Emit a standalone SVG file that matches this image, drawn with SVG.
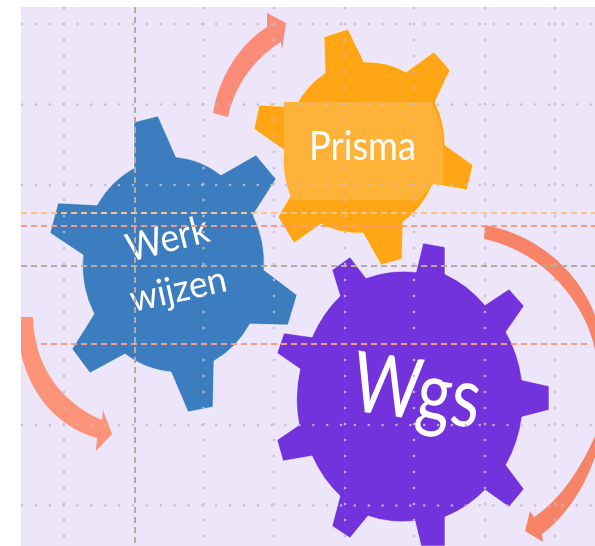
<svg xmlns="http://www.w3.org/2000/svg" width="595" height="546" viewBox="0 0 595 546">
<style>
.gear{stroke:#fff;stroke-width:1;stroke-opacity:.55;stroke-linejoin:round}
.label{fill:#fff;font-family:Lato,"Open Sans","Liberation Sans",sans-serif}
.col{stroke:#c4bcc4;stroke-width:2.6;stroke-linecap:round;stroke-dasharray:0 16;stroke-opacity:.9;fill:none}
.row{stroke:#c4bcc4;stroke-width:2.6;stroke-linecap:round;stroke-dasharray:0 13.87;stroke-opacity:.9;fill:none}
.guide{stroke-width:2;stroke-dasharray:6 4;fill:none}
</style>
<defs><filter id="soft" x="-5%" y="-5%" width="110%" height="110%"><feGaussianBlur stdDeviation="0.5"/></filter></defs>
<rect width="595" height="546" fill="#fff"/>
<rect x="21" y="7" width="574" height="539" fill="#ede5fa"/>
<g filter="url(#soft)">
<g id="connectors">
<path d="M213 113C219 78 238 46 267 27L267 13L286 23L282 50L281 42C255 58 235 84 228 117Z" fill="#fb8c78"/>
<path d="M21 317H33C34 365 60 402 102 420L103 410L112 434L96 451L97 438C58 427 30 395 21 353Z" fill="#fd9377"/>
<path d="M485 225C540 235 585 275 600 330V440C590 480 568 515 542 534L543 542L525 531L530 511L534 517C560 500 580 470 595 436V350C585 300 540 250 484 239Z" fill="#f88467"/>
</g>
<g id="gear-werkwijzen">
<path class="gear" fill="#3b7dbf" d="M134 122L158 116L176 157A90 100 0 0 1 221 175L256 155L276 179L253 215A92 100 0 0 1 264 270L297 295L288 325L250 324A92 100 0 0 1 214 361L213 407L188 412L171 372A92 100 0 0 1 125 354L90 373L72 349L94 314A92 100 0 0 1 83 255L50 233L58 203L97 205A92 100 0 0 1 134 168Z"/>
<text class="label" font-size="39" transform="translate(130 262) rotate(-14.5)" textLength="84" lengthAdjust="spacingAndGlyphs">Werk</text>
<text class="label" font-size="37" transform="translate(133 312) rotate(-12.5)" textLength="98" lengthAdjust="spacingAndGlyphs">wijzen</text>
</g>
<g id="gear-prisma">
<path class="gear" fill="#ffa514" d="M324 37L348 29L364 62A84 92 0 0 1 406 72L434 52L450 70L435 102A84 92 0 0 1 445 145L473 165L467 190L433 184A84 92 0 0 1 403 222L402 259L381 265L363 233A84 92 0 0 1 321 224L294 243L278 217L292 193A84 92 0 0 1 284 150L254 129L259 105L295 107A84 92 0 0 1 325 73Z"/>
<path fill="#ffb238" d="M284 102H431A84 92 0 0 1 443 145V185L433 184A84 92 0 0 1 418 200H292A84 92 0 0 1 284 150Z"/>
<text class="label" x="309" y="160" font-size="40" textLength="107" lengthAdjust="spacingAndGlyphs">Prisma</text>
</g>
<g id="gear-wgs">
<path class="gear" fill="#7232dc" d="M423 243L445 247L445 274A114 125 0 0 1 485 305L509 289L524 306L506 332A114 125 0 0 1 522 380L549 386L549 410L522 417A114 125 0 0 1 506 465L524 489L509 507L485 490A114 125 0 0 1 445 517V546H421L415 521A114 125 0 0 1 368 516L350 538L332 526L340 496A114 125 0 0 1 312 456L283 461L277 440L299 425A114 125 0 0 1 300 369L277 353L284 333L312 337A114 125 0 0 1 340 296L332 270L350 257L366 278A114 125 0 0 1 416 272Z"/>
<text class="label" font-size="84" transform="translate(349 410) rotate(8)" textLength="129" lengthAdjust="spacingAndGlyphs">Wgs</text>
</g>
<g id="grid">
<path class="col" d="M64 8V546M203.500 8V546M274 8V546M345 8V546M414 8V546M485 8V546M555 8V546"/>
<path class="row" d="M22 24H595M22 104.500H595M22 185H595M22 425H595M22 505.500H595"/>
<path class="guide" stroke="#b5ab9e" d="M135 7V546M21 266H595"/>
<path class="guide" stroke="#f8c48c" d="M21 213H595"/>
<path class="guide" stroke="#f59c84" d="M21 226H595M21 344H590"/>
</g>
</g>
</svg>
